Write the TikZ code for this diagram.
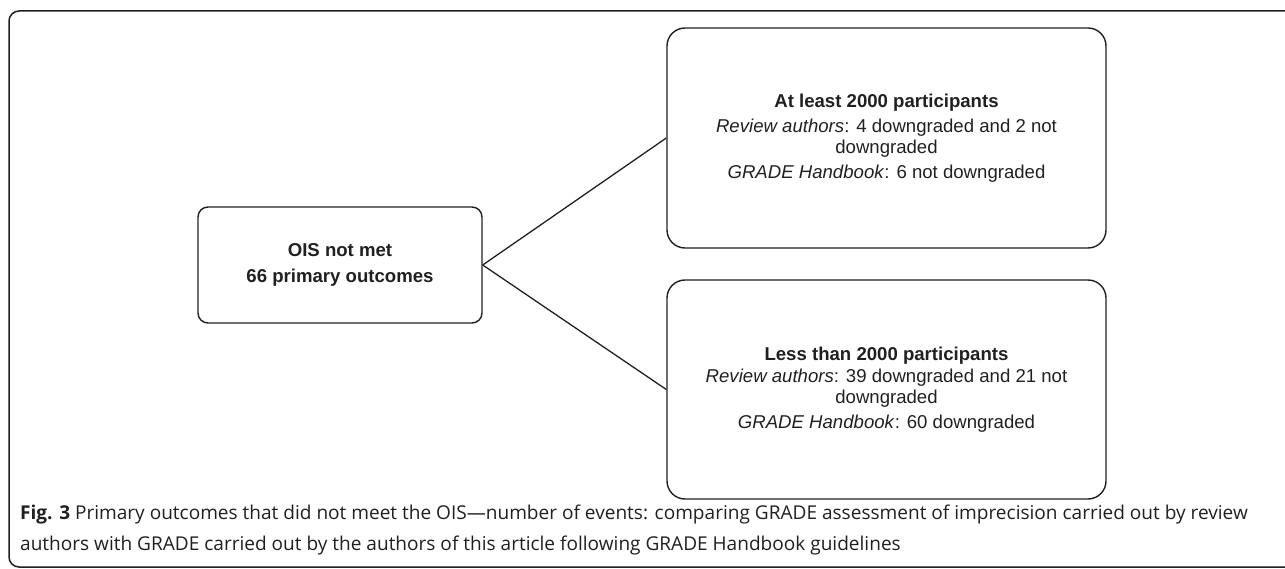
\documentclass[tikz,border=0pt]{standalone}
\usepackage{fontspec}
\setmainfont{Liberation Sans}
\newfontfamily\capfont{Open Sans}
\definecolor{linec}{HTML}{231F20}
\definecolor{txt}{HTML}{231F20}
\begin{document}
\begin{tikzpicture}[x=1pt,y=-1pt,
  box/.style={draw=linec, line width=1.4pt, align=center, inner sep=0pt,
    font=\fontsize{18.6}{20.5}\selectfont, text=txt},
  link/.style={draw=linec, line width=1.3pt}]
\useasboundingbox (0,0) rectangle (1285,569);
\draw[line width=1.5pt, rounded corners=10pt, draw=linec] (1300,11) -- (9,11) -- (9,567) -- (1300,567);
\node[box, rounded corners=10pt, minimum width=284pt, minimum height=116pt] (ois) at (340,265)
  {\textbf{OIS not met}\\[5pt]\textbf{66 primary outcomes}};
\node[box, rounded corners=18pt, minimum width=439pt, minimum height=220pt] (top) at (886.5,138)
  {\textbf{At least 2000 participants}\\[5pt]
   \textit{Review authors}: 4 downgraded and 2 not\\downgraded\\[5pt]
   \textit{GRADE Handbook}: 6 not downgraded};
\node[box, rounded corners=18pt, minimum width=439pt, minimum height=219pt] (bot) at (886.5,389.5)
  {\textbf{Less than 2000 participants}\\[2pt]
   \textit{Review authors}: 39 downgraded and 21 not\\downgraded\\[5pt]
   \textit{GRADE Handbook}: 60 downgraded};
\draw[link] (ois.east) -- (top.west);
\draw[link] (ois.east) -- (bot.west);
\node[anchor=north west, align=left, inner sep=0pt, text=txt,
  font=\capfont\fontsize{19.05}{31}\selectfont] (cap) at (20,504.5)
  {\textbf{Fig. 3} Primary outcomes that did not meet the OIS—number of events: comparing GRADE assessment of imprecision carried out by review\\
   authors with GRADE carried out by the authors of this article following GRADE Handbook guidelines};
\end{tikzpicture}
\end{document}
